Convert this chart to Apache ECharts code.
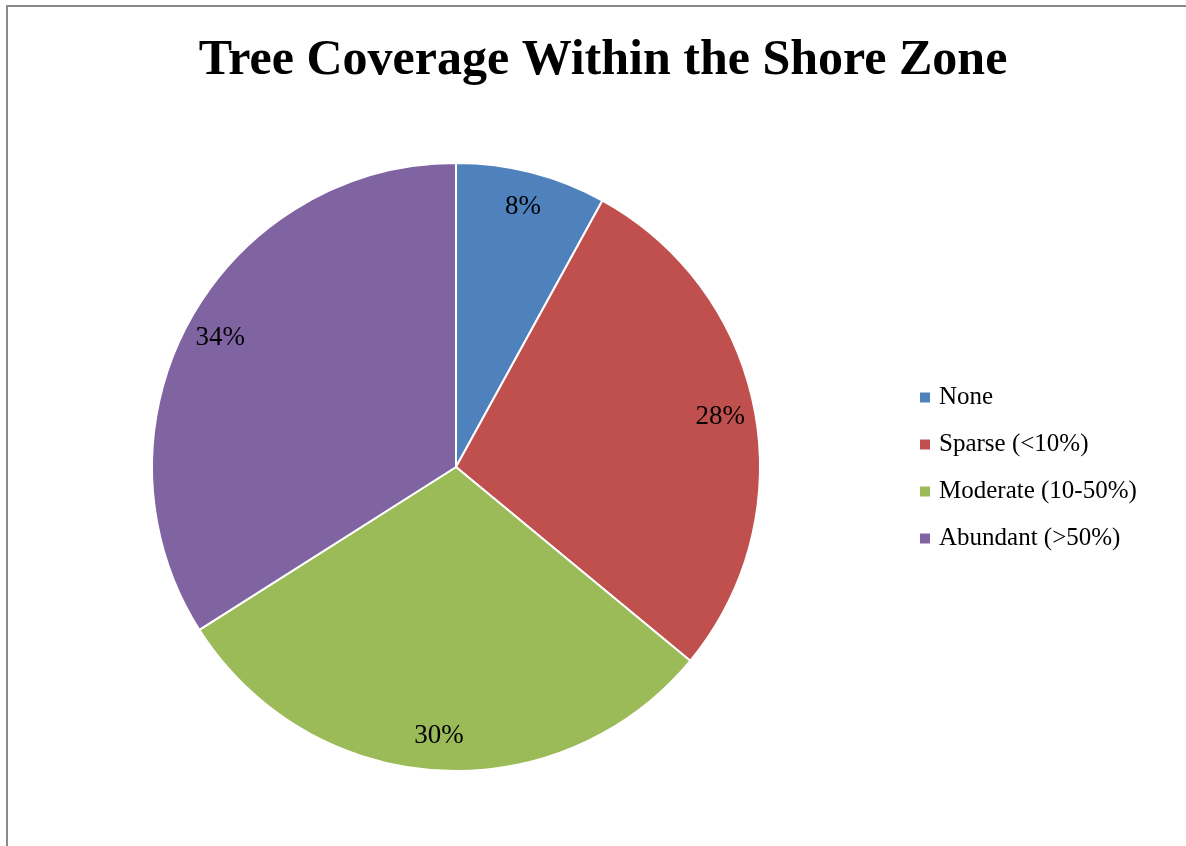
<!DOCTYPE html>
<html>
<head>
<meta charset="utf-8">
<script src="https://cdn.jsdelivr.net/npm/echarts@6/dist/echarts.min.js"></script>
<style>
  html, body { margin: 0; padding: 0; background: #fff; }
  #chart { width: 1186px; height: 846px; }
</style>
</head>
<body>
<div id="chart"></div>
<script>
// Share of shoreline by tree coverage class
const categories = ['None', 'Sparse (<10%)', 'Moderate (10-50%)', 'Abundant (>50%)'];
const shares = [8, 28, 30, 34];
const colors = ['#4F81BD', '#C0504D', '#9BBB59', '#8064A2'];

const serif = '"Liberation Serif", "DejaVu Serif", serif';
const pieData = categories.map((name, i) => ({ name, value: shares[i] }));
const center = [456, 467];
const R = 304;

const chart = echarts.init(document.getElementById('chart'), null, { renderer: 'canvas' });
chart.setOption({
  backgroundColor: '#ffffff',
  animation: false,
  color: colors,
  title: {
    text: 'Tree Coverage Within the Shore Zone',
    left: 598,
    textAlign: 'center',
    top: 31,
    textStyle: { fontFamily: serif, fontWeight: 'bold', fontSize: 50, color: '#000' }
  },
  legend: {
    orient: 'vertical',
    left: 913,
    top: 380,
    icon: 'rect',
    itemWidth: 12,
    itemHeight: 12,
    itemGap: 22,
    selectedMode: false,
    textStyle: { fontFamily: serif, fontSize: 25, color: '#000', padding: [0, 0, 0, 3] },
    data: categories
  },
  graphic: [
    { type: 'line', shape: { x1: 7, y1: 5, x2: 7, y2: 846 }, style: { stroke: '#8a8a8a', lineWidth: 2 } },
    { type: 'line', shape: { x1: 6, y1: 6, x2: 1186, y2: 6 }, style: { stroke: '#8a8a8a', lineWidth: 2 } }
  ],
  series: [
    {
      type: 'pie',
      center: center,
      radius: [0, R],
      startAngle: 90,
      clockwise: true,
      label: { show: false },
      labelLine: { show: false },
      emphasis: { disabled: true },
      itemStyle: { borderColor: '#ffffff', borderWidth: 2 },
      data: pieData
    },
    {
      // transparent ring that carries the percentage labels near the rim
      type: 'pie',
      center: center,
      radius: [228, R],
      startAngle: 90,
      clockwise: true,
      silent: true,
      legendHoverLink: false,
      itemStyle: { color: 'rgba(0,0,0,0)', borderWidth: 0 },
      emphasis: { disabled: true },
      label: {
        show: true,
        position: 'inside',
        formatter: '{c}%',
        fontFamily: serif,
        fontSize: 27,
        color: '#000',
        padding: [7, 0, 0, 0]
      },
      labelLine: { show: false },
      data: pieData
    }
  ]
});
</script>
</body>
</html>
